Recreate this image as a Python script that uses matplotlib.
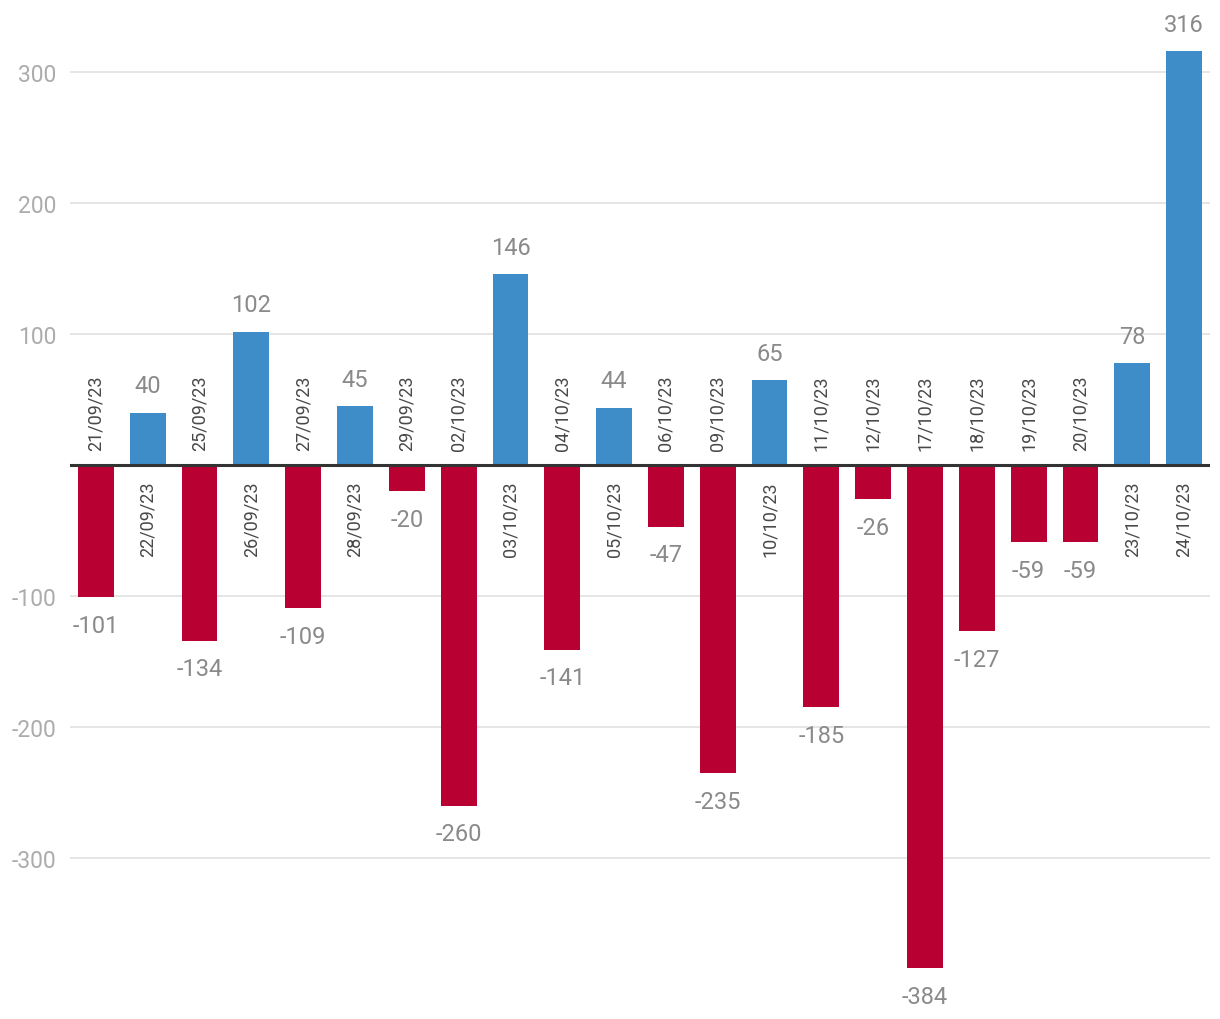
import matplotlib
matplotlib.use('Agg')
import matplotlib.pyplot as plt

dates = ['21/09/23', '22/09/23', '25/09/23', '26/09/23', '27/09/23', '28/09/23',
         '29/09/23', '02/10/23', '03/10/23', '04/10/23', '05/10/23', '06/10/23',
         '09/10/23', '10/10/23', '11/10/23', '12/10/23', '17/10/23', '18/10/23',
         '19/10/23', '20/10/23', '23/10/23', '24/10/23']
values = [-101, 40, -134, 102, -109, 45, -20, -260, 146, -141, 44, -47,
          -235, 65, -185, -26, -384, -127, -59, -59, 78, 316]
y_ticks = [-300, -200, -100, 100, 200, 300]

BLUE = '#3e8dc8'
RED = '#b80032'

plt.rcParams['font.family'] = ['Roboto', 'DejaVu Sans']

fig = plt.figure(figsize=(12.2, 10.2), dpi=100)
ax = fig.add_axes([70 / 1220, 0, 1140 / 1220, 1])

x = list(range(len(values)))
colors = [BLUE if v > 0 else RED for v in values]
ax.bar(x, values, width=0.69, color=colors, zorder=2)

ax.set_xlim(-0.5, len(values) - 0.5)
ax.set_ylim(-423, 356)

for t in y_ticks:
    ax.axhline(t, color='#e3e3e3', lw=1.3, zorder=0)
ax.axhline(0, color='#333333', lw=2.2, zorder=3)

ax.set_yticks(y_ticks)
ax.set_yticklabels([str(t) for t in y_ticks])
ax.tick_params(axis='y', length=0, pad=10, labelsize=16.5, labelcolor='#acacac')
ax.set_xticks([])
for s in ax.spines.values():
    s.set_visible(False)

for xi, v, d in zip(x, values, dates):
    if v > 0:
        ax.annotate(str(v), (xi, v), xytext=(0, 11), textcoords='offset points',
                    ha='center', va='bottom', fontsize=17, color='#8a8a8a')
        ax.annotate(d, (xi, 0), xytext=(0, -11), textcoords='offset points',
                    ha='center', va='top', rotation=90, fontsize=13, color='#484848')
    else:
        ax.annotate(str(v), (xi, v), xytext=(0, -12), textcoords='offset points',
                    ha='center', va='top', fontsize=17, color='#8a8a8a')
        ax.annotate(d, (xi, 0), xytext=(0, 11), textcoords='offset points',
                    ha='center', va='bottom', rotation=90, fontsize=13, color='#484848')

fig.savefig('out.png', dpi=100, facecolor='white')
